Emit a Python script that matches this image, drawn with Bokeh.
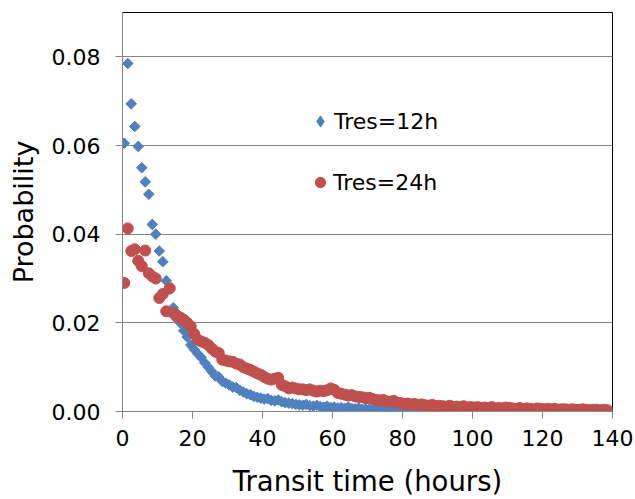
import math
from bokeh.plotting import figure
from bokeh.models import (Range1d, FixedTicker, NumeralTickFormatter, Legend,
                          LegendItem, ColumnDataSource)
from bokeh.embed import file_html
from bokeh.resources import INLINE

# ---- data ----
x_ticks = [0, 20, 40, 60, 80, 100, 120, 140]
y_ticks = [0.0, 0.02, 0.04, 0.06, 0.08]

series_12h_label = "Tres=12h"
series_24h_label = "Tres=24h"

prob_12h = [
    0.0605, 0.0785, 0.0694, 0.0643, 0.0598, 0.0550, 0.0518, 0.0490, 0.0422, 0.0400,
    0.0362, 0.0338, 0.0295, 0.0276, 0.0234, 0.0222, 0.0200, 0.0182, 0.0168, 0.0150,
    0.0140, 0.0130, 0.0122, 0.0110, 0.0100, 0.0090, 0.0080, 0.0078, 0.0068, 0.0064,
    0.0060, 0.0055, 0.0054, 0.0048, 0.0044, 0.0040, 0.0038, 0.0034, 0.0032, 0.0030,
    0.0028, 0.0029, 0.0025, 0.0024, 0.0026, 0.0022, 0.0020, 0.0019, 0.0018, 0.0016,
    0.0015, 0.0014, 0.0016, 0.0013, 0.0012, 0.0014, 0.0011, 0.0010, 0.0012, 0.0009,
    0.0010, 0.0008, 0.0009, 0.0007, 0.0010, 0.0007, 0.0006, 0.0008, 0.0005, 0.0006,
    0.0005, 0.0004, 0.0006, 0.0004, 0.0005, 0.0003, 0.0004, 0.0003, 0.0004, 0.0003,
    0.0002, 0.0003, 0.0002, 0.0003, 0.0002, 0.0002, 0.0003, 0.0001, 0.0002, 0.0002,
    0.0001, 0.0002, 0.0001, 0.0001, 0.0002, 0.0001, 0.0001, 0.0001, 0.0000, 0.0001,
    0.0001, 0.0000, 0.0001, 0.0000,
]

prob_24h = [
    0.0290, 0.0413, 0.0362, 0.0366, 0.0340, 0.0328, 0.0363, 0.0312, 0.0305, 0.0300,
    0.0256, 0.0265, 0.0226, 0.0278, 0.0222, 0.0214, 0.0212, 0.0207, 0.0200, 0.0192,
    0.0175, 0.0162, 0.0158, 0.0155, 0.0150, 0.0142, 0.0135, 0.0132, 0.0117, 0.0115,
    0.0113, 0.0112, 0.0108, 0.0106, 0.0100, 0.0097, 0.0094, 0.0090, 0.0086, 0.0083,
    0.0078, 0.0074, 0.0072, 0.0074, 0.0076, 0.0060, 0.0057, 0.0052, 0.0054, 0.0052,
    0.0050, 0.0050, 0.0048, 0.0050, 0.0047, 0.0045, 0.0047, 0.0046, 0.0048, 0.0052,
    0.0049, 0.0042, 0.0040, 0.0038, 0.0036, 0.0037, 0.0034, 0.0033, 0.0032, 0.0030,
    0.0031, 0.0028, 0.0026, 0.0025, 0.0026, 0.0023, 0.0022, 0.0024, 0.0020, 0.0019,
    0.0017, 0.0018, 0.0016, 0.0017, 0.0015, 0.0016, 0.0014, 0.0013, 0.0015, 0.0012,
    0.0013, 0.0012, 0.0011, 0.0013, 0.0010, 0.0011, 0.0010, 0.0012, 0.0009, 0.0010,
    0.0009, 0.0010, 0.0008, 0.0009, 0.0008, 0.0010, 0.0007, 0.0008, 0.0007, 0.0009,
    0.0008, 0.0007, 0.0006, 0.0008, 0.0006, 0.0007, 0.0006, 0.0005, 0.0007, 0.0006,
    0.0005, 0.0006, 0.0005, 0.0006, 0.0004, 0.0005, 0.0005, 0.0004, 0.0005, 0.0004,
    0.0004, 0.0005, 0.0004, 0.0003, 0.0004, 0.0004, 0.0003, 0.0004, 0.0003,
]

# bin centres (hours)
hours_12h = [i + 0.5 for i in range(len(prob_12h))]
hours_24h = [i + 0.5 for i in range(len(prob_24h))]

BLUE = "#4F81BD"
RED = "#C0504D"
GRID = "#868686"
FONT = "DejaVu Sans"

p = figure(width=635, height=499, output_backend="svg", toolbar_location=None,
           x_range=Range1d(0, 140), y_range=Range1d(0, 0.09),
           min_border_left=122, min_border_right=23, min_border_top=12,
           min_border_bottom=87)
p.background_fill_color = "white"
p.border_fill_color = "white"
p.outline_line_color = "black"
p.outline_line_width = 1

src12 = ColumnDataSource(dict(x=hours_12h, y=prob_12h))
src24 = ColumnDataSource(dict(x=hours_24h, y=prob_24h))

r12 = p.scatter("x", "y", source=src12, marker="square", angle=math.pi / 4,
                size=7.5, fill_color=BLUE, line_color=BLUE)
r24 = p.scatter("x", "y", source=src24, marker="circle", size=11,
                fill_color=RED, line_color=RED)
# legend-only glyph (undefined position, never drawn in the plot) so the key shows a diamond
r12_key = p.scatter(x=[float("nan")], y=[float("nan")], marker="diamond",
                    fill_color=BLUE, line_color=BLUE)

# grid
p.xgrid.visible = False
p.ygrid.ticker = FixedTicker(ticks=y_ticks)
p.ygrid.grid_line_color = GRID
p.ygrid.grid_line_width = 1

# axes
for ax in (p.xaxis[0], p.yaxis[0]):
    ax.axis_line_color = GRID
    ax.major_tick_line_color = GRID
    ax.major_tick_out = 7
    ax.major_tick_in = 0
    ax.minor_tick_line_color = None
    ax.major_label_text_font = FONT
    ax.major_label_text_font_size = "22px"
    ax.major_label_text_color = "black"
    ax.axis_label_text_font = FONT
    ax.axis_label_text_font_style = "normal"
    ax.axis_label_text_color = "black"

p.xaxis.axis_label_text_font_size = "27.5px"
p.yaxis.axis_label_text_font_size = "27px"
p.xaxis.ticker = FixedTicker(ticks=x_ticks)
p.yaxis.ticker = FixedTicker(ticks=y_ticks)
p.yaxis.formatter = NumeralTickFormatter(format="0.00")
p.xaxis.axis_label = "Transit time (hours)"
p.yaxis.axis_label = "Probability"
p.xaxis.major_label_standoff = 11
p.yaxis.major_label_standoff = 15
p.xaxis.axis_label_standoff = 16
p.yaxis.axis_label_standoff = 10

# legends (two, so each key glyph gets its own size)
leg1 = Legend(items=[LegendItem(label=series_12h_label, renderers=[r12_key])],
              location=(184, 276), glyph_width=28, glyph_height=28,
              label_height=28, label_standoff=0)
leg2 = Legend(items=[LegendItem(label=series_24h_label, renderers=[r24])],
              location=(185, 216), glyph_width=26, glyph_height=26,
              label_height=26, label_standoff=0)
for lg in (leg1, leg2):
    lg.padding = 0
    lg.margin = 0
    lg.spacing = 0
    lg.background_fill_alpha = 0
    lg.border_line_alpha = 0
    lg.label_text_font = FONT
    lg.label_text_font_size = "22px"
    lg.label_text_color = "black"
    p.add_layout(lg)

open("out.html", "w").write(file_html(p, INLINE))
